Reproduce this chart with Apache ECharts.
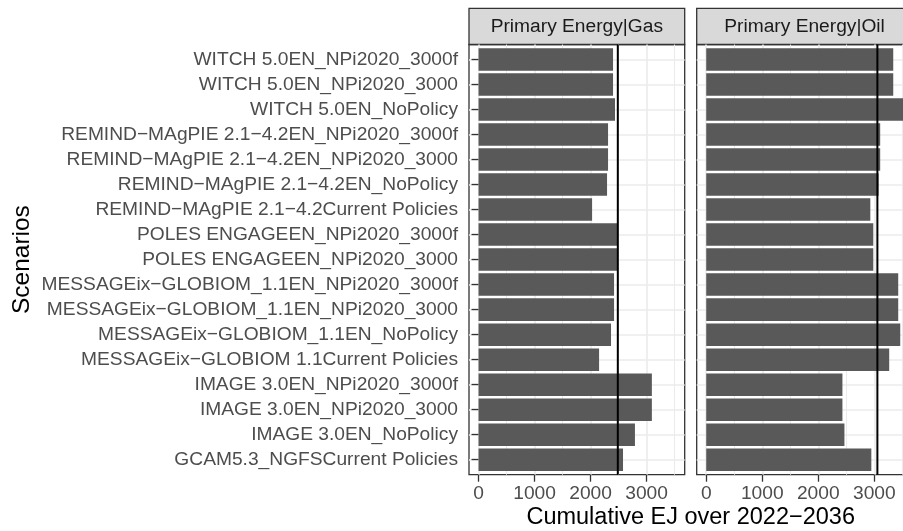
<!DOCTYPE html>
<html>
<head>
<meta charset="utf-8">
<script src="https://cdn.jsdelivr.net/npm/echarts@6/dist/echarts.min.js"></script>
<style>
  html, body { margin: 0; padding: 0; background: #fff; overflow: hidden; width: 903px; height: 531px; }
  #chart { width: 920px; height: 531px; }
</style>
</head>
<body>
<div id="chart"></div>
<script>
// Scenario names, top to bottom
const categories = [
  'WITCH 5.0EN_NPi2020_3000f',
  'WITCH 5.0EN_NPi2020_3000',
  'WITCH 5.0EN_NoPolicy',
  'REMIND\u2212MAgPIE 2.1\u22124.2EN_NPi2020_3000f',
  'REMIND\u2212MAgPIE 2.1\u22124.2EN_NPi2020_3000',
  'REMIND\u2212MAgPIE 2.1\u22124.2EN_NoPolicy',
  'REMIND\u2212MAgPIE 2.1\u22124.2Current Policies',
  'POLES ENGAGEEN_NPi2020_3000f',
  'POLES ENGAGEEN_NPi2020_3000',
  'MESSAGEix\u2212GLOBIOM_1.1EN_NPi2020_3000f',
  'MESSAGEix\u2212GLOBIOM_1.1EN_NPi2020_3000',
  'MESSAGEix\u2212GLOBIOM_1.1EN_NoPolicy',
  'MESSAGEix\u2212GLOBIOM 1.1Current Policies',
  'IMAGE 3.0EN_NPi2020_3000f',
  'IMAGE 3.0EN_NPi2020_3000',
  'IMAGE 3.0EN_NoPolicy',
  'GCAM5.3_NGFSCurrent Policies'
];

// Cumulative primary energy, EJ over 2022-2036
const gasValues = [2401, 2401, 2436, 2312, 2312, 2294, 2027, 2480, 2480, 2419, 2419, 2365, 2152, 3094, 3094, 2792, 2579];
const oilValues = [3338, 3338, 3520, 3105, 3105, 3077, 2929, 2982, 2982, 3427, 3427, 3463, 3266, 2431, 2431, 2467, 2947];

// Reference levels (vertical lines)
const gasReference = 2486;
const oilReference = 3055;

const panelTitles = ['Primary Energy|Gas', 'Primary Energy|Oil'];
const xTicks = [0, 1000, 2000, 3000];
const xMinorTicks = [500, 1500, 2500, 3500];
const xTitle = 'Cumulative EJ over 2022\u22122036';
const yTitle = 'Scenarios';

// ---- layout ----
const FONT = '"Liberation Sans", Arial, Helvetica, sans-serif';
const AXIS_FS = 19.2;
const TITLE_FS = 23.5;
const PANEL_LEFT = [469, 696.7];
const PANEL_W = 215.7;
const PANEL_TOP = 44.5;
const PANEL_H = 430.2;
const STRIP_TOP = 8.3;
const X_MIN = -170, X_MAX = 3680;

const n = categories.length;
const yLo = 0.4, yHi = n + 0.6;              // discrete axis padding
const unit = PANEL_H / (yHi - yLo);
const barTop = PANEL_TOP + (1 - yLo - 0.5) * unit;
const barH = n * unit;

const panelValues = [gasValues, oilValues];
const panelRefs = [gasReference, oilReference];

const grid = [];
const xAxis = [];
const yAxis = [];
const series = [];
const graphic = [];

const GRID_COLOR = '#EBEBEB';

for (let p = 0; p < 2; p++) {
  // frame grid: border + grid lines + x ticks
  grid.push({
    left: PANEL_LEFT[p], top: PANEL_TOP, width: PANEL_W, height: PANEL_H,
    show: true, borderColor: '#333333', borderWidth: 1.3, backgroundColor: 'transparent',
    containLabel: false
  });
}
for (let p = 0; p < 2; p++) {
  // bar grid: category bands
  grid.push({
    left: PANEL_LEFT[p], top: barTop, width: PANEL_W, height: barH,
    containLabel: false
  });
}

for (let p = 0; p < 2; p++) {
  const base = xAxis.length;
  xAxis.push({
    gridIndex: p, type: 'value', min: X_MIN, max: X_MAX, position: 'bottom',
    axisLine: { show: false },
    axisTick: { show: true, length: 7, customValues: xTicks, lineStyle: { color: '#333333', width: 1.3 } },
    axisLabel: {
      show: true, customValues: xTicks, margin: 10, color: '#4D4D4D',
      fontSize: AXIS_FS, fontFamily: FONT, formatter: (v) => String(v)
    },
    splitLine: { show: true, lineStyle: { color: GRID_COLOR, width: 1.6 } }
  });
  xAxis.push({
    gridIndex: p, type: 'value', min: X_MIN, max: X_MAX, position: 'top',
    axisLine: { show: false },
    axisTick: { show: false, customValues: xMinorTicks },
    axisLabel: { show: false, customValues: xMinorTicks },
    splitLine: { show: true, lineStyle: { color: GRID_COLOR, width: 1 } }
  });
  xAxis.push({
    gridIndex: 2 + p, type: 'value', min: X_MIN, max: X_MAX, show: false
  });

  yAxis.push({
    gridIndex: p, type: 'value', min: yLo, max: yHi, inverse: true,
    axisLine: { show: false },
    axisTick: { show: false, customValues: categories.map((_, i) => i + 1) },
    axisLabel: { show: false, customValues: categories.map((_, i) => i + 1) },
    splitLine: { show: true, lineStyle: { color: GRID_COLOR, width: 1.6 } }
  });
  yAxis.push({
    gridIndex: 2 + p, type: 'category', data: categories, inverse: true,
    axisLine: { show: false },
    axisTick: { show: p === 0, alignWithLabel: true, length: 7, lineStyle: { color: '#333333', width: 1.3 } },
    axisLabel: { show: p === 0, margin: 11, color: '#4D4D4D', fontSize: AXIS_FS, fontFamily: FONT, interval: 0 },
    splitLine: { show: false }
  });

  series.push({
    type: 'bar', name: panelTitles[p],
    xAxisIndex: base + 2, yAxisIndex: 2 * p + 1,
    data: panelValues[p],
    barCategoryGap: '10%',
    itemStyle: { color: '#595959' },
    silent: true
  });
  series.push({
    type: 'line',
    xAxisIndex: base, yAxisIndex: 2 * p,
    data: [[panelRefs[p], yLo], [panelRefs[p], yHi]],
    symbol: 'none', z: 5, silent: true,
    lineStyle: { color: '#000000', width: 2 }
  });

  // facet strip
  graphic.push({
    type: 'rect', silent: true,
    shape: { x: PANEL_LEFT[p], y: STRIP_TOP, width: PANEL_W, height: PANEL_TOP - STRIP_TOP },
    style: { fill: '#D9D9D9', stroke: '#333333', lineWidth: 1.3 }
  });
  graphic.push({
    type: 'text', silent: true,
    x: PANEL_LEFT[p] + PANEL_W / 2, y: (STRIP_TOP + PANEL_TOP) / 2 + 0.5,
    style: { text: panelTitles[p], fill: '#1A1A1A', fontSize: AXIS_FS, fontFamily: FONT, align: 'center', verticalAlign: 'middle' }
  });
}

// axis titles
graphic.push({
  type: 'text', silent: true,
  x: (PANEL_LEFT[0] + PANEL_LEFT[1] + PANEL_W) / 2, y: 518,
  style: { text: xTitle, fill: '#000000', fontSize: TITLE_FS, fontFamily: FONT, align: 'center', verticalAlign: 'middle' }
});
graphic.push({
  type: 'text', silent: true,
  x: 22, y: PANEL_TOP + PANEL_H / 2, rotation: Math.PI / 2,
  style: { text: yTitle, fill: '#000000', fontSize: 24.5, fontFamily: FONT, align: 'center', verticalAlign: 'middle' }
});

const chart = echarts.init(document.getElementById('chart'), null, { renderer: 'canvas' });
chart.setOption({
  animation: false,
  backgroundColor: '#FFFFFF',
  grid, xAxis, yAxis, series, graphic
});
</script>
</body>
</html>
